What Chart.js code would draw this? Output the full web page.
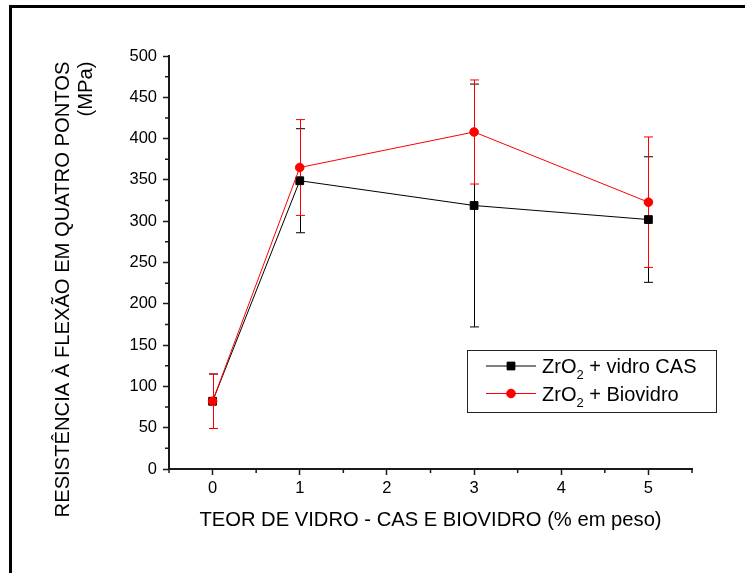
<!DOCTYPE html>
<html>
<head>
<meta charset="utf-8">
<script src="https://cdn.jsdelivr.net/npm/chart.js@4.4.1/dist/chart.umd.min.js"></script>
<style>
  html, body { margin: 0; padding: 0; background: #fff; }
  canvas { display: block; }
</style>
</head>
<body>
<canvas id="flexao" width="745" height="573"></canvas>
<script>
// teor de vidro (% em peso)
let teorVidro = [0, 1, 3, 5];
// ZrO2 + vidro CAS: media e desvio (MPa)
let casMedia = [82, 349, 319, 302];
let casDesvio = [33, 63, 147, 76];
// ZrO2 + Biovidro: media e desvio (MPa)
let bioMedia = [82, 365, 408, 323];
let bioDesvio = [33, 58, 63, 79];

let seriesNames = ['ZrO2 + vidro CAS', 'ZrO2 + Biovidro'];

let xTicks = [0, 1, 2, 3, 4, 5];
let xMinor = [-0.5, 0.5, 1.5, 2.5, 3.5, 4.5, 5.5];
let yTicks = [0, 50, 100, 150, 200, 250, 300, 350, 400, 450, 500];
let yMinor = [25, 75, 125, 175, 225, 275, 325, 375, 425, 475];

let fontFamily = '"Liberation Sans", Arial, sans-serif';
let axisColor = '#1a1a1a';

let toPoints = function(xs, ys) {
    return xs.map(function(x, i) { return {x: x, y: ys[i]}; });
};

// white background + black frame (top and left only, as in the original)
let framePlugin = {
    id: 'frame',
    beforeDraw: function(chart) {
        let c = chart.ctx;
        c.save();
        c.fillStyle = '#fff';
        c.fillRect(0, 0, chart.width, chart.height);
        c.fillStyle = '#000';
        c.fillRect(9, 5, chart.width - 9, 3);
        c.fillRect(9, 5, 3, chart.height - 5);
        c.restore();
    }
};

let minorTicksPlugin = {
    id: 'minorTicks',
    afterDraw: function(chart) {
        let c = chart.ctx, xs = chart.scales.x, ys = chart.scales.y;
        let ca = chart.chartArea;
        c.save();
        c.strokeStyle = axisColor;
        c.lineWidth = 1.5;
        c.beginPath();
        xMinor.forEach(function(v) {
            let px = xs.getPixelForValue(v);
            c.moveTo(px, ca.bottom);
            c.lineTo(px, ca.bottom + 4);
        });
        yMinor.forEach(function(v) {
            let py = ys.getPixelForValue(v);
            c.moveTo(ca.left, py);
            c.lineTo(ca.left - 4, py);
        });
        c.stroke();
        c.restore();
    }
};

let errorBarsPlugin = {
    id: 'errorBars',
    beforeDatasetsDraw: function(chart) {
        let c = chart.ctx, xs = chart.scales.x, ys = chart.scales.y;
        c.save();
        chart.data.datasets.forEach(function(ds) {
            c.strokeStyle = ds.borderColor;
            c.lineWidth = 1;
            c.beginPath();
            ds.data.forEach(function(p, i) {
                let px = Math.round(xs.getPixelForValue(p.x)) + 0.5;
                let top = ys.getPixelForValue(p.y + ds.sd[i]);
                let bot = ys.getPixelForValue(p.y - ds.sd[i]);
                c.moveTo(px, top);
                c.lineTo(px, bot);
                c.moveTo(px - 4.5, top);
                c.lineTo(px + 4.5, top);
                c.moveTo(px - 4.5, bot);
                c.lineTo(px + 4.5, bot);
            });
            c.stroke();
        });
        c.restore();
    }
};

// legend box inside the plot, with subscript 2 in ZrO2
let boxLegendPlugin = {
    id: 'boxLegend',
    afterDraw: function(chart) {
        let c = chart.ctx, ca = chart.chartArea;
        let bx = ca.right - 225, by = ca.top + 294, bw = 249, bh = 62;
        c.save();
        c.strokeStyle = '#222';
        c.lineWidth = 1;
        c.strokeRect(bx + 0.5, by + 0.5, bw, bh);
        chart.data.datasets.forEach(function(ds, i) {
            let cy = by + 16 + i * 27.5;
            c.strokeStyle = ds.borderColor;
            c.lineWidth = 1;
            c.beginPath();
            c.moveTo(bx + 19, cy);
            c.lineTo(bx + 69, cy);
            c.stroke();
            c.fillStyle = ds.pointBackgroundColor;
            Chart.helpers.drawPoint(c, {
                pointStyle: ds.pointStyle,
                radius: ds.pointRadius,
                borderWidth: 1
            }, bx + 44, cy);
            c.fill();
            let parts = ds.label.split('2');
            let tx = bx + 75, base = cy + 7;
            c.fillStyle = '#000';
            c.textBaseline = 'alphabetic';
            c.font = '20px ' + fontFamily;
            c.fillText(parts[0], tx, base);
            tx += c.measureText(parts[0]).width;
            c.font = '13px ' + fontFamily;
            c.fillText('2', tx, base + 6);
            tx += c.measureText('2').width;
            c.font = '20px ' + fontFamily;
            c.fillText(parts[1], tx, base);
        });
        c.restore();
    }
};

let chartFlexao = new Chart(document.getElementById('flexao').getContext('2d'), {
    type: 'line',
    data: {
        datasets: [{
            label: seriesNames[0],
            data: toPoints(teorVidro, casMedia),
            sd: casDesvio,
            borderColor: '#000000',
            backgroundColor: '#000000',
            pointBackgroundColor: '#000000',
            pointBorderColor: '#000000',
            pointStyle: 'rect',
            pointRadius: 5.5,
            pointBorderWidth: 1,
            borderWidth: 1,
            tension: 0,
            order: 2
        }, {
            label: seriesNames[1],
            data: toPoints(teorVidro, bioMedia),
            sd: bioDesvio,
            borderColor: '#ff0000',
            backgroundColor: '#ff0000',
            pointBackgroundColor: '#ff0000',
            pointBorderColor: '#ff0000',
            pointStyle: 'circle',
            pointRadius: 4.3,
            pointBorderWidth: 1,
            borderWidth: 1,
            tension: 0,
            order: 1
        }]
    },
    options: {
        responsive: false,
        animation: false,
        events: [],
        layout: { padding: { left: 14, top: 56, right: 53, bottom: 0 } },
        plugins: { legend: { display: false }, tooltip: { enabled: false } },
        scales: {
            x: {
                type: 'linear',
                min: -0.5,
                max: 5.5,
                afterBuildTicks: function(scale) {
                    scale.ticks = xTicks.map(function(v) { return {value: v}; });
                },
                afterFit: function(scale) { scale.height = 104; },
                grid: { drawOnChartArea: false, drawTicks: true, tickLength: 6, tickColor: axisColor, tickWidth: 1.5 },
                border: { display: true, color: axisColor, width: 2 },
                ticks: { color: '#000', padding: 4, autoSkip: false, maxRotation: 0, font: { family: fontFamily, size: 16.5 } },
                title: {
                    display: true,
                    text: 'TEOR DE VIDRO - CAS E BIOVIDRO (% em peso)',
                    color: '#000',
                    font: { family: fontFamily, size: 20.2, lineHeight: 1.2 },
                    padding: { top: 0, bottom: 40 }
                }
            },
            y: {
                min: 0,
                max: 500,
                afterBuildTicks: function(scale) {
                    scale.ticks = yTicks.map(function(v) { return {value: v}; });
                },
                afterFit: function(scale) { scale.width = 155; },
                grid: { drawOnChartArea: false, drawTicks: true, tickLength: 6, tickColor: axisColor, tickWidth: 1.5 },
                border: { display: true, color: axisColor, width: 2 },
                ticks: { color: '#000', padding: 6, autoSkip: false, font: { family: fontFamily, size: 16.5 } },
                title: {
                    display: true,
                    align: 'end',
                    text: ['RESISTÊNCIA À FLEXÃO EM QUATRO PONTOS ', '(MPa) '],
                    color: '#000',
                    font: { family: fontFamily, size: 20.2, lineHeight: 1.15 },
                    padding: { top: 38, bottom: 0 }
                }
            }
        }
    },
    plugins: [framePlugin, errorBarsPlugin, minorTicksPlugin, boxLegendPlugin]
});
</script>
</body>
</html>
